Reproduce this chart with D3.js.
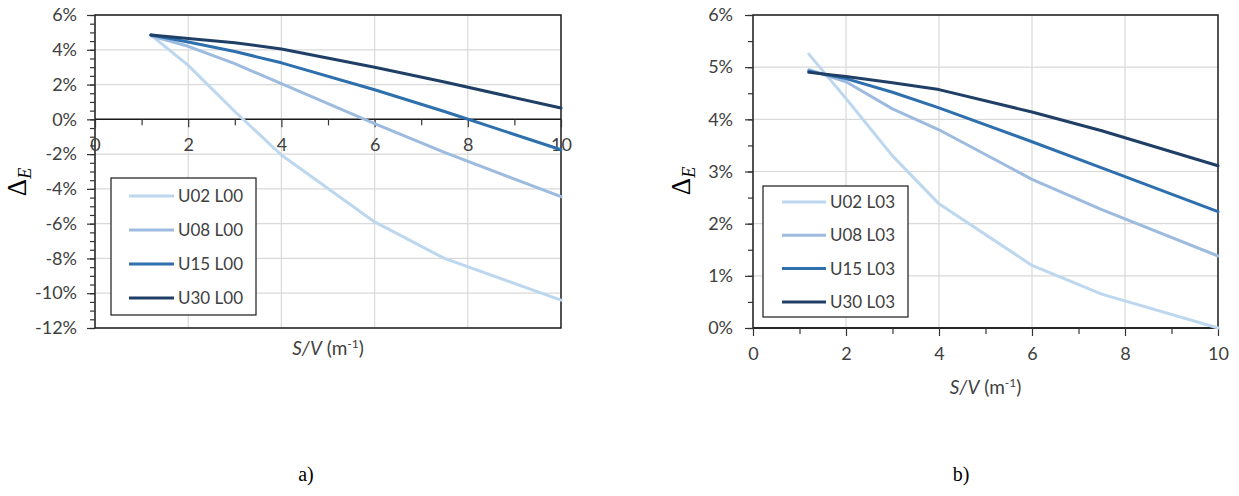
<!DOCTYPE html>
<html>
<head>
<meta charset="utf-8">
<script src="https://cdn.jsdelivr.net/npm/d3@7"></script>
<style>
  body { margin: 0; background: #fff; }
  svg text { font-family: Lato, "Open Sans", "Liberation Sans", sans-serif; fill: #404040; }
  .cap { font-family: "Liberation Serif", "DejaVu Serif", serif; fill: #000; }
  .math { font-family: "Liberation Serif", "DejaVu Serif", serif; fill: #000; }
</style>
</head>
<body>
<svg id="chart" width="1239" height="496"></svg>
<script>
// Surface-to-volume ratio S/V (m^-1) sampled for every series
const svRatio = [1.2, 2, 3, 4, 6, 7.5, 10];

// Panel a) – L00 cases, Delta_E in %
const namesL00 = ["U02 L00", "U08 L00", "U15 L00", "U30 L00"];
const u02L00 = [4.85, 3.1, 0.45, -2.05, -5.9, -8.0, -10.4];
const u08L00 = [4.8, 4.2, 3.2, 2.05, -0.25, -1.9, -4.45];
const u15L00 = [4.85, 4.45, 3.9, 3.25, 1.7, 0.45, -1.75];
const u30L00 = [4.85, 4.65, 4.4, 4.05, 3.0, 2.15, 0.65];

// Panel b) – L03 cases, Delta_E in %
const namesL03 = ["U02 L03", "U08 L03", "U15 L03", "U30 L03"];
const u02L03 = [5.25, 4.4, 3.3, 2.38, 1.2, 0.65, 0.0];
const u08L03 = [4.95, 4.72, 4.2, 3.8, 2.85, 2.27, 1.38];
const u15L03 = [4.92, 4.78, 4.52, 4.22, 3.57, 3.07, 2.23];
const u30L03 = [4.9, 4.82, 4.7, 4.57, 4.14, 3.78, 3.11];

// Tick values
const xMajorTicks = [0, 2, 4, 6, 8, 10];
const xMinorTicks = [1, 3, 5, 7, 9];
const yTicksA = [-12, -10, -8, -6, -4, -2, 0, 2, 4, 6];
const yTicksB = [0, 1, 2, 3, 4, 5, 6];

const seriesColors = ["#bdd7ee", "#9dbbdf", "#2e6fad", "#203f66"];

const svg = d3.select("#chart");

function drawPanel(p) {
  const g = svg.append("g");
  const x = d3.scaleLinear().domain([0, 10]).range([p.left, p.right]);
  const y = d3.scaleLinear().domain(p.yDomain).range([p.bottom, p.top]);

  // gridlines
  g.append("g").selectAll("line").data(p.yTicks).join("line")
    .attr("x1", p.left).attr("x2", p.right)
    .attr("y1", d => y(d)).attr("y2", d => y(d))
    .attr("stroke", "#d9d9d9").attr("stroke-width", 1.2);
  g.append("g").selectAll("line").data(xMajorTicks.slice(1, -1)).join("line")
    .attr("x1", d => x(d)).attr("x2", d => x(d))
    .attr("y1", p.top).attr("y2", p.bottom)
    .attr("stroke", "#d9d9d9").attr("stroke-width", 1.2);

  // plot-area frame
  g.append("rect")
    .attr("x", p.left).attr("y", p.top)
    .attr("width", p.right - p.left).attr("height", p.bottom - p.top)
    .attr("fill", "none").attr("stroke", "#1a1a1a").attr("stroke-width", 1.5);

  // y axis: minor and major ticks
  const yMinor = d3.range(p.yDomain[0], p.yDomain[1] + 0.001, 0.5);
  const yMinorAxis = g.append("g").attr("transform", `translate(${p.left},0)`)
    .call(d3.axisLeft(y).tickValues(yMinor).tickSize(5).tickFormat(""));
  const yMajorAxis = g.append("g").attr("transform", `translate(${p.left},0)`)
    .call(d3.axisLeft(y).tickValues(p.yTicks).tickSize(8).tickPadding(p.yPad)
      .tickFormat(d => d + "%"));
  [yMinorAxis, yMajorAxis].forEach(a => {
    a.select(".domain").remove();
    a.selectAll("line").attr("stroke", "#333").attr("stroke-width", 1.2);
  });
  yMajorAxis.selectAll("text").style("font-size", "18px").attr("fill", "#404040");

  // x axis at the chosen baseline value
  const axisY = y(p.xAxisAt);
  g.append("line").attr("x1", p.left).attr("x2", p.right)
    .attr("y1", axisY).attr("y2", axisY)
    .attr("stroke", "#1a1a1a").attr("stroke-width", 1.5);
  const xMinorAxis = g.append("g").attr("transform", `translate(0,${axisY})`)
    .call(d3.axisBottom(x).tickValues(xMinorTicks).tickSize(6).tickFormat(""));
  const xMajorAxis = g.append("g").attr("transform", `translate(0,${axisY})`)
    .call(d3.axisBottom(x).tickValues(xMajorTicks).tickSize(8).tickPadding(11)
      .tickFormat(d3.format("d")));
  [xMinorAxis, xMajorAxis].forEach(a => {
    a.select(".domain").remove();
    a.selectAll("line").attr("stroke", "#333").attr("stroke-width", 1.2);
  });
  xMajorAxis.selectAll("text").style("font-size", "18px").attr("fill", "#404040");

  // series lines
  const line = d3.line()
    .x((d, i) => x(svRatio[i]))
    .y(d => y(d));
  g.append("g").selectAll("path").data(p.series).join("path")
    .attr("d", d => line(d))
    .attr("fill", "none")
    .attr("stroke", (d, i) => seriesColors[i])
    .attr("stroke-width", 3)
    .attr("stroke-linejoin", "round")
    .attr("stroke-linecap", "round");

  // legend
  const lg = g.append("g").attr("transform", `translate(${p.legend.x},${p.legend.y})`);
  lg.append("rect").attr("width", p.legend.w).attr("height", p.legend.h)
    .attr("fill", "#fff").attr("stroke", "#1a1a1a").attr("stroke-width", 1.2);
  const items = lg.selectAll("g.item").data(p.names).join("g")
    .attr("class", "item")
    .attr("transform", (d, i) => `translate(0,${p.legend.first + i * p.legend.step})`);
  items.append("line")
    .attr("x1", p.legend.lx1).attr("x2", p.legend.lx2)
    .attr("stroke", (d, i) => seriesColors[i]).attr("stroke-width", 3);
  items.append("text")
    .attr("x", p.legend.tx).attr("dy", "0.36em")
    .style("font-size", "17px").text(d => d);

  // axis titles
  const xt = g.append("text")
    .attr("x", (p.left + p.right) / 2).attr("y", p.xTitleY)
    .attr("text-anchor", "middle").style("font-size", "19px");
  xt.append("tspan").style("font-style", "italic").text("S/V");
  xt.append("tspan").text(" (m");
  xt.append("tspan").attr("baseline-shift", "super").style("font-size", "12px").text("-1");
  xt.append("tspan").text(")");

  const yt = g.append("text")
    .attr("class", "math")
    .attr("transform", `translate(${p.yTitleX},${p.yTitleY}) rotate(-90)`)
    .attr("text-anchor", "middle");
  yt.append("tspan").style("font-size", "27px").text("Δ");
  yt.append("tspan").attr("class", "math").style("font-style", "italic")
    .style("font-size", "18px").attr("dy", 5).text("E");

  // panel caption
  svg.append("text").attr("class", "cap")
    .attr("x", p.capX).attr("y", 481).attr("text-anchor", "middle")
    .style("font-size", "20px").text(p.caption);
}

drawPanel({
  left: 95, right: 561, top: 15, bottom: 328,
  yDomain: [-12, 6], yTicks: yTicksA, yPad: 10, xAxisAt: 0,
  series: [u02L00, u08L00, u15L00, u30L00], names: namesL00,
  legend: { x: 111, y: 178, w: 145, h: 137, first: 18, step: 34, lx1: 18, lx2: 63, tx: 67 },
  xTitleY: 355, yTitleX: 26, yTitleY: 182,
  capX: 306, caption: "a)"
});

drawPanel({
  left: 753, right: 1218, top: 15, bottom: 328,
  yDomain: [0, 6], yTicks: yTicksB, yPad: 12, xAxisAt: 0,
  series: [u02L03, u08L03, u15L03, u30L03], names: namesL03,
  legend: { x: 763, y: 186, w: 145, h: 131, first: 16, step: 33.3, lx1: 19, lx2: 63, tx: 67 },
  xTitleY: 394, yTitleX: 690, yTitleY: 181,
  capX: 961, caption: "b)"
});
</script>
</body>
</html>
